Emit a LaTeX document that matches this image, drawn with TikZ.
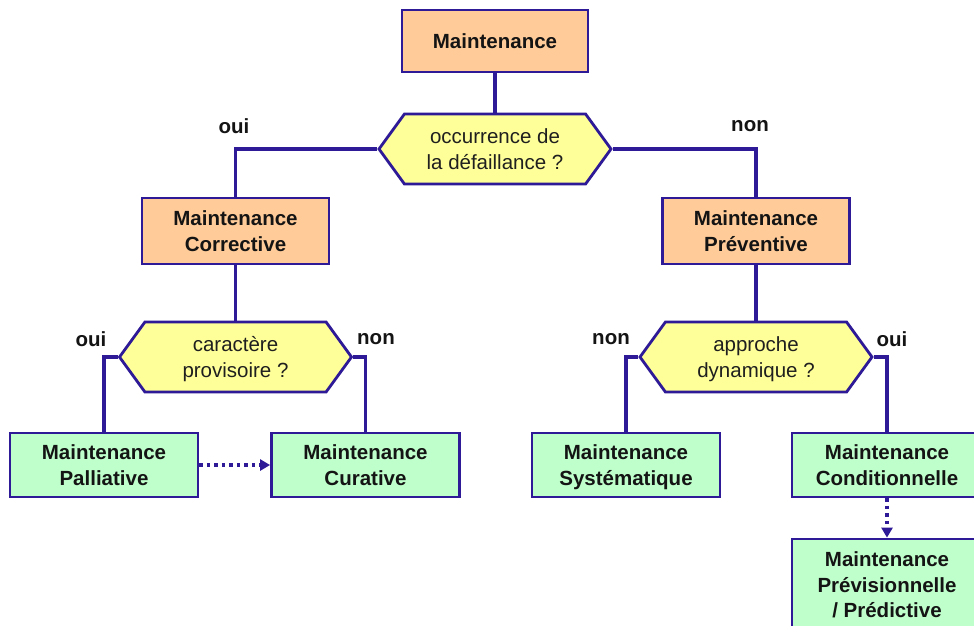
\documentclass[tikz,border=0pt]{standalone}
\usepackage{fontspec}
\setmainfont{Liberation Sans}
\usetikzlibrary{shapes.symbols,arrows.meta}
\definecolor{edgeblue}{HTML}{2E1A96}
\definecolor{orangefill}{HTML}{FFCC99}
\definecolor{yellowfill}{HTML}{FFFF99}
\definecolor{greenfill}{HTML}{BFFFCB}
\newcommand{\tstr}{\rule{0pt}{19pt}}
\newcommand{\bstr}{\rule[-4.4pt]{0pt}{4.4pt}}
\tikzset{
  box/.style={draw=edgeblue, line width=2.8pt, rectangle, align=center, inner sep=0pt,
    font=\fontsize{20.5}{25.5}\selectfont\bfseries, text=black!92},
  orangebox/.style={box, fill=orangefill},
  greenbox/.style={box, fill=greenfill},
  question/.style={draw=edgeblue, line width=2.8pt, fill=yellowfill, signal, signal to=west and east,
    signal pointer angle=108, inner sep=0pt, align=center,
    minimum width=232pt, minimum height=70pt,
    font=\fontsize{20.5}{25.5}\selectfont, text=black!88},
  link/.style={draw=edgeblue, line width=3.4pt},
  dotlink/.style={draw=edgeblue, line width=3.4pt, dash pattern=on 3.5pt off 4pt,
    -{Triangle[length=10pt,width=11pt]}},
  lbl/.style={font=\fontsize{20.5}{24}\selectfont\bfseries, text=black!92, inner sep=0pt}
}
\begin{document}
\begin{tikzpicture}[x=1pt,y=-1pt]
\useasboundingbox (0,0) rectangle (974,625);
\clip (0,0) rectangle (974,625);
\fill[white] (0,0) rectangle (974,625);

\node[orangebox, minimum width=186pt, minimum height=62pt] (main) at (495,41) {Maintenance};
\node[question] (q1) at (495,149) {\tstr occurrence de\\la défaillance ?\bstr};

\node[orangebox, minimum width=187pt, minimum height=66pt] (corr) at (235.5,231) {\tstr Maintenance\\Corrective\bstr};
\node[orangebox, minimum width=187pt, minimum height=66pt] (prev) at (756,231) {\tstr Maintenance\\Préventive\bstr};

\node[question] (q2) at (235.5,357) {\tstr caractère\\provisoire ?\bstr};
\node[question] (q3) at (756,357) {\tstr approche\\dynamique ?\bstr};

\node[greenbox, minimum width=188pt, minimum height=64pt] (pall) at (104,465) {\tstr Maintenance\\Palliative\bstr};
\node[greenbox, minimum width=188pt, minimum height=64pt] (cur) at (365.5,465) {\tstr Maintenance\\Curative\bstr};
\node[greenbox, minimum width=188pt, minimum height=64pt] (sys) at (626,465) {\tstr Maintenance\\Systématique\bstr};
\node[greenbox, minimum width=190pt, minimum height=64pt] (cond) at (887,465) {\tstr Maintenance\\Conditionnelle\bstr};
\node[greenbox, minimum width=190pt, minimum height=92pt] (pred) at (887,585) {\tstr Maintenance\\Prévisionnelle\\/ Prédictive\bstr};

\draw[link] (main.south) -- (q1.north);
\draw[link] (q1.west) -| (corr.north);
\draw[link] (q1.east) -| (prev.north);
\draw[link] (corr.south) -- (q2.north);
\draw[link] (prev.south) -- (q3.north);
\draw[link] (q2.west) -| (pall.north);
\draw[link] (q2.east) -| (cur.north);
\draw[link] (q3.west) -| (sys.north);
\draw[link] (q3.east) -| (cond.north);

\draw[dotlink] (pall.east) -- (cur.west);
\draw[dotlink] (cond.south) -- (pred.north);

\node[lbl] (l1) at (234,126) {oui};
\node[lbl] (l2) at (750,126) {non};
\node[lbl] (l3) at (91,339) {oui};
\node[lbl] (l4) at (376,339) {non};
\node[lbl] (l5) at (611,339) {non};
\node[lbl] (l6) at (892,339) {oui};
\end{tikzpicture}
\end{document}
